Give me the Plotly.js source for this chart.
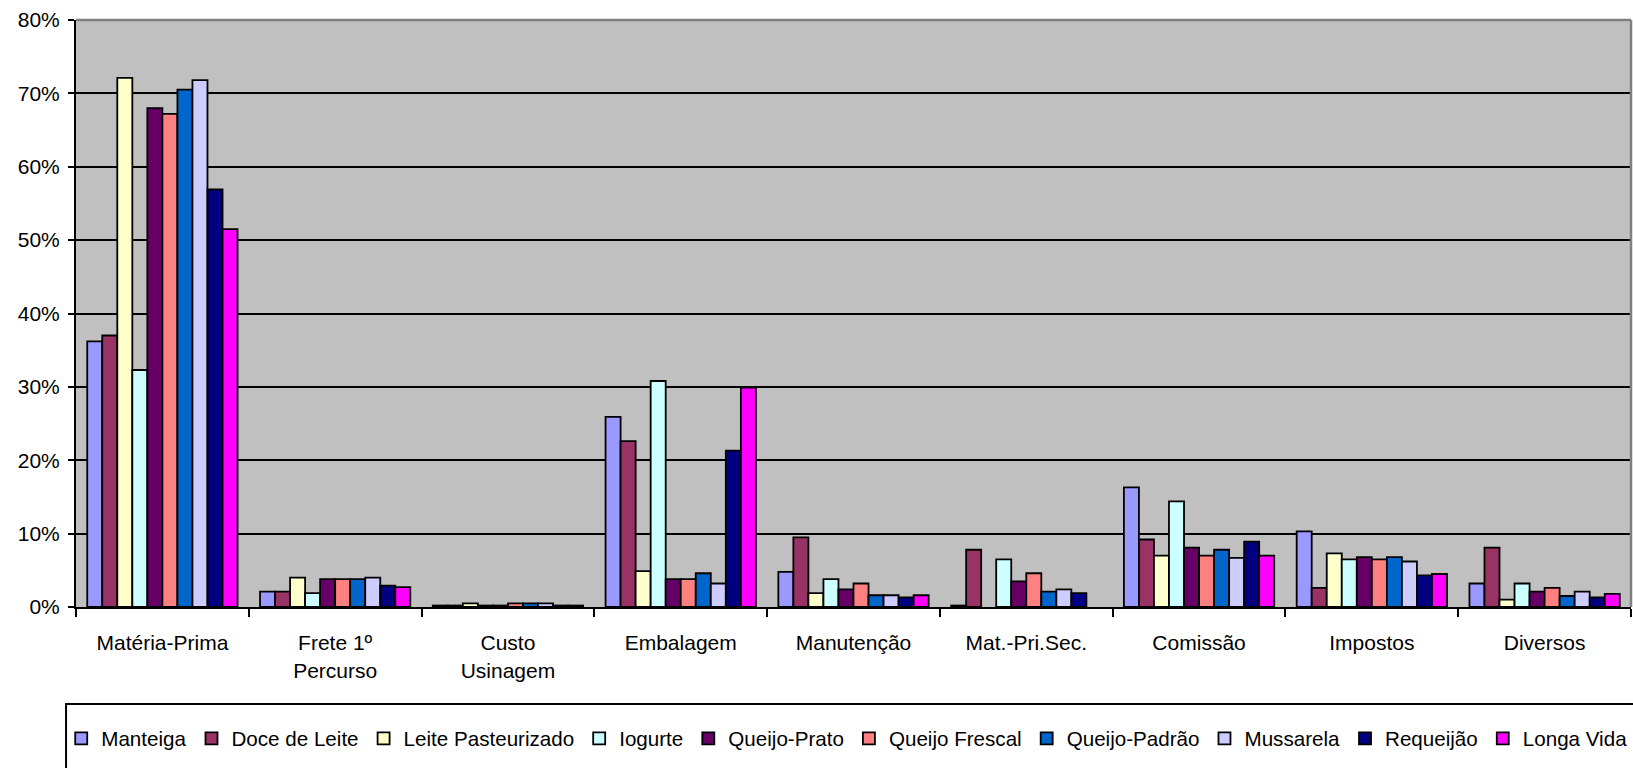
<!DOCTYPE html>
<html>
<head>
<meta charset="utf-8">
<script src="https://cdn.plot.ly/plotly-3.0.1.min.js"></script>
<style>html,body{margin:0;padding:0;background:#fff;}#chart{width:1633px;height:768px;}</style>
</head>
<body>
<div id="chart"></div>
<script>
const categories = ["Matéria-Prima", "Frete 1º<br>Percurso", "Custo<br>Usinagem", "Embalagem", "Manutenção", "Mat.-Pri.Sec.", "Comissão", "Impostos", "Diversos"];
const seriesNames = ["Manteiga", "Doce de Leite", "Leite Pasteurizado", "Iogurte", "Queijo-Prato", "Queijo Frescal", "Queijo-Padrão", "Mussarela", "Requeijão", "Longa Vida"];
const seriesColors = ["#9999FF", "#993366", "#FFFFCC", "#CCFFFF", "#660066", "#FF8080", "#0066CC", "#CCCCFF", "#000080", "#FF00FF"];

// values in % per series, in category order (null = no bar)
const manteiga          = [36.2, 2.1, 0.2, 25.9, 4.8, 0.2, 16.3, 10.3, 3.2];
const doceDeLeite       = [37.0, 2.1, 0.2, 22.6, 9.5, 7.8, 9.2, 2.6, 8.1];
const leitePasteurizado = [72.1, 4.0, 0.5, 4.9, 1.9, null, 7.0, 7.3, 1.0];
const iogurte           = [32.3, 1.9, 0.2, 30.8, 3.8, 6.5, 14.4, 6.5, 3.2];
const queijoPrato       = [68.0, 3.8, 0.2, 3.8, 2.4, 3.5, 8.1, 6.8, 2.1];
const queijoFrescal     = [67.2, 3.8, 0.5, 3.8, 3.2, 4.6, 7.0, 6.5, 2.6];
const queijoPadrao      = [70.5, 3.8, 0.5, 4.6, 1.6, 2.1, 7.8, 6.8, 1.5];
const mussarela         = [71.8, 4.0, 0.5, 3.2, 1.6, 2.4, 6.7, 6.2, 2.1];
const requeijao         = [56.9, 2.9, 0.2, 21.3, 1.3, 1.9, 8.9, 4.3, 1.3];
const longaVida         = [51.5, 2.7, 0.2, 29.9, 1.6, null, 7.0, 4.5, 1.8];

const yTickVals = [0, 10, 20, 30, 40, 50, 60, 70, 80];
const yTickText = ["0%", "10%", "20%", "30%", "40%", "50%", "60%", "70%", "80%"];

const seriesValues = [manteiga, doceDeLeite, leitePasteurizado, iogurte, queijoPrato, queijoFrescal, queijoPadrao, mussarela, requeijao, longaVida];

const FONT = "Arial, 'Liberation Sans', sans-serif";

const traces = seriesNames.map((name, i) => ({
  type: "bar",
  name: name,
  x: categories,
  y: seriesValues[i],
  marker: {color: seriesColors[i], line: {color: "#000000", width: 1.8}},
  hoverinfo: "x+y+name"
}));

const layout = {
  width: 1633,
  height: 768,
  margin: {l: 76, r: 2, t: 20, b: 161},
  paper_bgcolor: "#ffffff",
  plot_bgcolor: "#C0C0C0",
  font: {family: FONT, size: 21, color: "#000000"},
  barmode: "group",
  bargap: 0.13,
  bargroupgap: 0,
  showlegend: true,
  legend: {
    orientation: "h",
    x: -0.0095,
    xanchor: "left",
    y: -0.19,
    yanchor: "top",
    font: {family: FONT, size: 20.6, color: "#000000"},
    bgcolor: "rgba(0,0,0,0)",
    borderwidth: 0,
    itemwidth: 30,
    traceorder: "normal"
  },
  xaxis: {
    type: "category",
    showgrid: false,
    showline: true,
    linecolor: "#000000",
    linewidth: 2,
    ticks: "outside",
    tickson: "boundaries",
    ticklen: 8,
    tickwidth: 2,
    tickcolor: "#000000",
    ticklabelstandoff: 16,
    tickfont: {family: FONT, size: 21, color: "#000000"},
    zeroline: false
  },
  yaxis: {
    range: [0, 80],
    tickvals: yTickVals,
    ticktext: yTickText,
    showgrid: true,
    gridcolor: "#000000",
    gridwidth: 1.5,
    showline: true,
    linecolor: "#000000",
    linewidth: 2,
    ticks: "outside",
    ticklen: 6,
    tickwidth: 2,
    tickcolor: "#000000",
    ticklabelstandoff: 4,
    tickfont: {family: FONT, size: 21, color: "#000000"},
    zeroline: false,
    fixedrange: true
  },
  shapes: [
    {type: "line", xref: "paper", yref: "paper", x0: 0, x1: 1, y0: 1, y1: 1, line: {color: "#808080", width: 2.5}, layer: "above"},
    {type: "line", xref: "paper", yref: "paper", x0: 1, x1: 1, y0: 0, y1: 1, line: {color: "#808080", width: 2.5}, layer: "above"},
    {type: "rect", xref: "paper", yref: "paper", x0: -0.0064, x1: 1.05, y0: -0.1652, y1: -0.5, line: {color: "#000000", width: 2}, fillcolor: "rgba(0,0,0,0)", layer: "above"}
  ]
};

Plotly.newPlot("chart", traces, layout, {displayModeBar: false});
</script>
</body>
</html>
